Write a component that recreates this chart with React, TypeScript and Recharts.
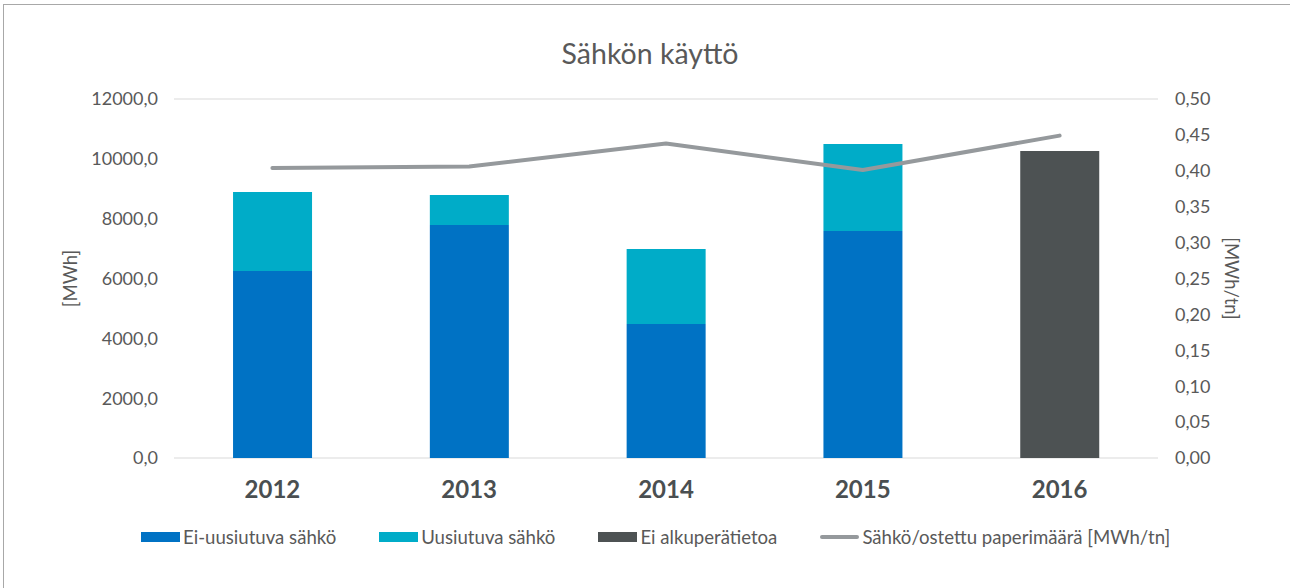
import React from 'react';
import { ComposedChart, Bar, Line, XAxis, YAxis, CartesianGrid, Legend, Label } from 'recharts';

const years = ['2012', '2013', '2014', '2015', '2016'];
const eiUusiutuva = [6250, 7790, 4480, 7590, 0];
const uusiutuva = [2640, 1000, 2510, 2910, 0];
const eiAlkupera = [0, 0, 0, 0, 10260];
const sahkoPerPaperi = [0.404, 0.406, 0.438, 0.401, 0.449];
const leftTicks = [0, 2000, 4000, 6000, 8000, 10000, 12000];
const rightTicks = [0, 0.05, 0.1, 0.15, 0.2, 0.25, 0.3, 0.35, 0.4, 0.45, 0.5];

const seriesNames = {
  ei: 'Ei-uusiutuva sähkö',
  uu: 'Uusiutuva sähkö',
  al: 'Ei alkuperätietoa',
  line: 'Sähkö/ostettu paperimäärä [MWh/tn]',
};

const colors = {
  ei: '#0072c4',
  uu: '#00acc8',
  al: '#4d5253',
  line: '#95999c',
};

const data = years.map((y, i) => ({
  year: y,
  ei: eiUusiutuva[i] || null,
  uu: uusiutuva[i] || null,
  al: eiAlkupera[i] || null,
  line: sahkoPerPaperi[i],
}));

const FONT = 'Lato, "Open Sans", sans-serif';
const TEXT = '#595959';

const LegendContent = () => {
  const items = [
    { key: 'ei', type: 'rect' },
    { key: 'uu', type: 'rect' },
    { key: 'al', type: 'rect' },
    { key: 'line', type: 'line' },
  ] as const;
  return (
    <div style={{ display: 'flex', alignItems: 'center', height: 30, paddingLeft: 141, fontFamily: FONT, fontSize: 18.6, color: TEXT }}>
      {items.map((it, idx) => (
        <div key={it.key} style={{ display: 'flex', alignItems: 'center', marginLeft: idx === 0 ? 0 : 43 }}>
          {it.type === 'rect' ? (
            <div style={{ width: 39, height: 10, background: (colors as any)[it.key] }} />
          ) : (
            <div style={{ width: 39, height: 4, borderRadius: 2, background: colors.line }} />
          )}
          <span style={{ marginLeft: 3, whiteSpace: 'nowrap' }}>{(seriesNames as any)[it.key]}</span>
        </div>
      ))}
    </div>
  );
};

export default function App() {
  return (
    <div style={{ position: 'absolute', left: 0, top: 0, width: 1290, height: 588, background: '#fff', overflow: 'hidden' }}>
      <div style={{ position: 'absolute', left: 3, top: 4, width: 1300, height: 600, borderTop: '1px solid #a8a8a8', borderLeft: '1px solid #a8a8a8' }} />
      <div style={{ position: 'absolute', left: 0, top: 36, width: 1300, textAlign: 'center', fontFamily: FONT, fontSize: 28.5, color: TEXT, lineHeight: '34px' }}>
        Sähkön käyttö
      </div>
      <ComposedChart
        width={1290}
        height={588}
        data={data}
        margin={{ top: 99, right: 0, left: 0, bottom: 36 }}
        barCategoryGap="30%"
        style={{ position: 'absolute', left: 0, top: 0 }}
      >
        <CartesianGrid vertical={false} stroke="#e6e6e6" strokeWidth={1.5} />
        <XAxis
          dataKey="year"
          axisLine={false}
          tickLine={false}
          tickSize={0}
          tickMargin={23}
          height={64}
          tick={{ fontFamily: FONT, fontSize: 24, fontWeight: 700, fill: '#4a4f51' }}
        />
        <YAxis
          yAxisId="left"
          width={174}
          domain={[0, 12000]}
          ticks={leftTicks}
          tickFormatter={(v: number) => v.toFixed(1).replace('.', ',')}
          axisLine={false}
          tickLine={false}
          tickSize={0}
          tickMargin={16}
          tick={{ fontFamily: FONT, fontSize: 18, fill: TEXT }}
        >
          <Label value="[MWh]" angle={-90} position="center" dx={-17} style={{ fontFamily: FONT, fontSize: 18.5, fill: TEXT }} />
        </YAxis>
        <YAxis
          yAxisId="right"
          orientation="right"
          width={132}
          domain={[0, 0.5]}
          ticks={rightTicks}
          tickFormatter={(v: number) => v.toFixed(2).replace('.', ',')}
          axisLine={false}
          tickLine={false}
          tickSize={0}
          tickMargin={17}
          tick={{ fontFamily: FONT, fontSize: 18, fill: TEXT }}
        >
          <Label value="[MWh/tn]" angle={90} position="center" dx={8} style={{ fontFamily: FONT, fontSize: 18.5, fill: TEXT }} />
        </YAxis>
        <Legend verticalAlign="bottom" height={30} content={<LegendContent />} />
        <Bar yAxisId="left" dataKey="ei" name={seriesNames.ei} stackId="a" fill={colors.ei} isAnimationActive={false} />
        <Bar yAxisId="left" dataKey="uu" name={seriesNames.uu} stackId="a" fill={colors.uu} isAnimationActive={false} />
        <Bar yAxisId="left" dataKey="al" name={seriesNames.al} stackId="a" fill={colors.al} isAnimationActive={false} />
        <Line
          yAxisId="right"
          dataKey="line"
          name={seriesNames.line}
          stroke={colors.line}
          strokeWidth={4}
          strokeLinecap="round"
          strokeLinejoin="round"
          dot={false}
          activeDot={false}
          isAnimationActive={false}
        />
      </ComposedChart>
    </div>
  );
}
